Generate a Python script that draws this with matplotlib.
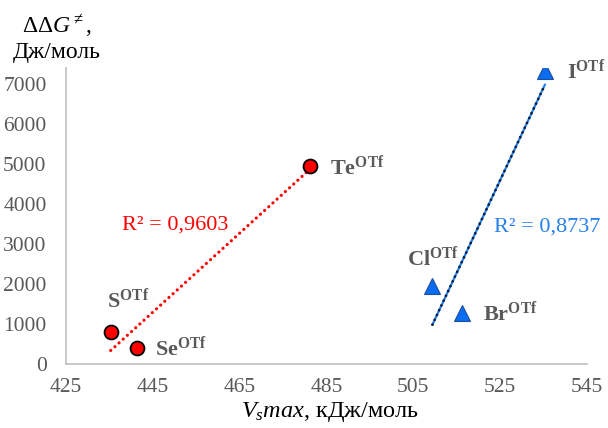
import numpy as np
import matplotlib
matplotlib.use("Agg")
import matplotlib.pyplot as plt

plt.rcParams['font.family'] = ['Liberation Serif', 'DejaVu Serif']
plt.rcParams['mathtext.fontset'] = 'custom'
plt.rcParams['mathtext.rm'] = 'Liberation Serif'
plt.rcParams['mathtext.it'] = 'Liberation Serif:italic'
plt.rcParams['mathtext.bf'] = 'Liberation Serif:bold'

# данные
chalc_names = ['S', 'Se', 'Te']
chalc_x = [435.3, 441.3, 481.3]
chalc_y = [800, 400, 4950]

hal_names = ['Cl', 'Br', 'I']
hal_x = [509.4, 516.3, 535.3]
hal_y = [1945, 1272, 7330]

x_ticks = [425, 445, 465, 485, 505, 525, 545]
y_ticks = [0, 1000, 2000, 3000, 4000, 5000, 6000, 7000]

r2_chalc = 'R² = 0,9603'
r2_hal = 'R² = 0,8737'

grey = '#595959'
red = '#FF0000'
blue = '#2680EB'

fig = plt.figure(figsize=(6.08, 4.28), dpi=100)
ax = fig.add_axes([66 / 608, 1 - 364 / 428, (587 - 66) / 608, (364 - 68) / 428])

# линии тренда
k, b = np.polyfit(chalc_x, chalc_y, 1)
xx = np.array([min(chalc_x), max(chalc_x)])
ax.plot(xx, k * xx + b, color=red, lw=2.3, linestyle=(0, (0.01, 1.75)),
        dash_capstyle='round', zorder=2)

k, b = np.polyfit(hal_x, hal_y, 1)
xx = np.array([min(hal_x), max(hal_x)])
ax.plot(xx, k * xx + b, color=blue, lw=1.6, zorder=2)
ax.plot(xx, k * xx + b, color='#0d1b3a', lw=2.0, linestyle=(0, (0.01, 1.9)),
        dash_capstyle='round', zorder=2)

ax.plot(chalc_x, chalc_y, 'o', ms=10, mfc=red, mec='black', mew=1.3, zorder=3)
ax.plot(hal_x, hal_y, '^', ms=11, mfc='#0A6CF0', mec='#1F4E9A', mew=0.8, zorder=3)

# подписи точек
label_pos = {
    'S': (434.4, 1600), 'Se': (445.5, 400), 'Te': (485.8, 4920),
    'Cl': (503.6, 2650), 'Br': (521.1, 1270), 'I': (540.3, 7330),
}
for name in chalc_names + hal_names:
    tx, ty = label_pos[name]
    ax.text(tx, ty, r'$\mathbf{%s}^{\mathbf{OTf}}$' % name, fontsize=16,
            color=grey, ha='left', va='center')

ax.text(450.1, 3470, r2_chalc, fontsize=16, color=red, ha='center', va='center')
ax.text(535.8, 3420, r2_hal, fontsize=16, color=blue, ha='center', va='center')

ax.set_xlim(425, 545)
ax.set_ylim(0, 7400)
ax.set_xticks(x_ticks)
ax.set_yticks(y_ticks)
ax.tick_params(length=0, labelsize=15.5, labelcolor=grey)
ax.tick_params(axis='y', pad=14)
ax.tick_params(axis='x', pad=10)
for s in ['top', 'right']:
    ax.spines[s].set_visible(False)
for s in ['left', 'bottom']:
    ax.spines[s].set_color('#BFBFBF')
    ax.spines[s].set_linewidth(1.2)

fig.text(57 / 608, 1 - 38 / 428, '$\\Delta\\Delta G^{\\neq}$,\nДж/моль', fontsize=17,
         ha='center', va='center', linespacing=1.15)
fig.text(330 / 608, 1 - 412 / 428, r'$V_smax$, кДж/моль', fontsize=17.5,
         ha='center', va='center')

fig.savefig('out.png', dpi=100)
